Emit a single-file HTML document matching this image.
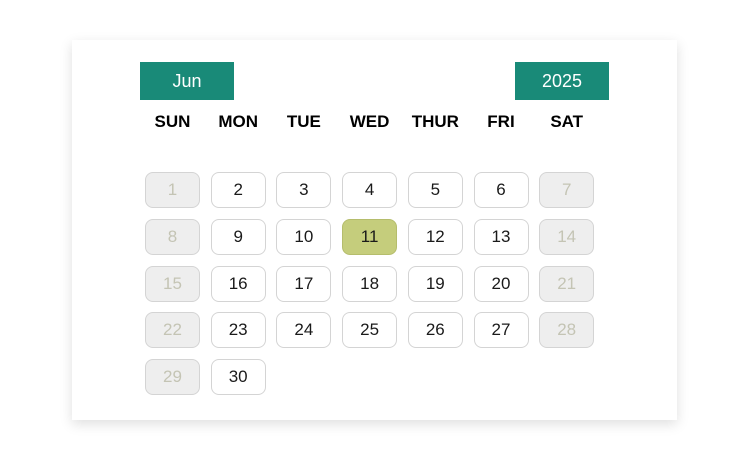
<!DOCTYPE html>
<html><head><meta charset="utf-8"><style>
body{margin:0;width:736px;height:451px;background:#fff;font-family:"Liberation Sans",sans-serif;position:relative;overflow:hidden}
.card{position:absolute;left:72px;top:40px;width:605px;height:380px;background:#fff;box-shadow:0 4px 12px rgba(0,0,0,.13)}
.sel{position:absolute;top:62px;height:38px;width:94px;background:#198a78;color:#fff;font-size:18px;line-height:38px;text-align:center}
.dh{position:absolute;top:112px;width:66px;text-align:center;font-weight:bold;font-size:17px;color:#000}
.c{position:absolute;width:55px;height:36px;border:1px solid #d4d4d4;border-radius:8px;box-sizing:border-box;text-align:center;line-height:34px;font-size:17px;color:#1a1a1a;background:#fff}
.w{background:#eeeeee;color:#c4c4b4}
.s{background:#c5cd7c;border-color:#b5bd6c}
</style></head><body>
<div class="card"></div>
<div class="sel" style="left:140px">Jun</div>
<div class="sel" style="left:515px">2025</div>
<div id="g"></div>
<script>
const days=['SUN','MON','TUE','WED','THUR','FRI','SAT'];
const g=document.getElementById('g');
const xs=i=>145+i*65.7;
days.forEach((d,i)=>{const e=document.createElement('div');e.className='dh';e.style.left=(xs(i)+27.5-33)+'px';e.textContent=d;


g.appendChild(e);});
for(let n=1;n<=30;n++){const i=(n-1)%7,r=Math.floor((n-1)/7);const e=document.createElement('div');
e.className='c'+((i==0||i==6)?' w':'')+(n==11?' s':'');e.style.left=xs(i)+'px';e.style.top=(172+r*46.8)+'px';e.textContent=n;


g.appendChild(e);}
</script>
</body></html>
